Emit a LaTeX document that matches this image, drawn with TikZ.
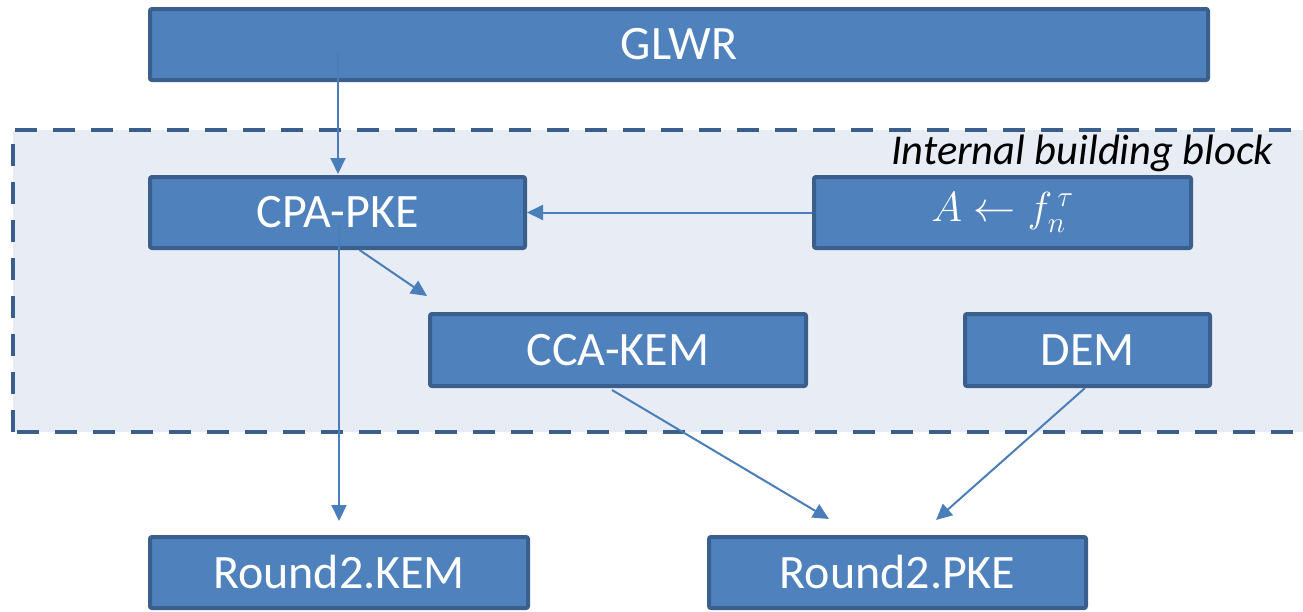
\RequirePackage{fix-cm}
\documentclass[tikz,border=0pt]{standalone}
\usepackage{fontspec}
\setmainfont{Carlito}
\usetikzlibrary{arrows.meta,calc}
\definecolor{boxfill}{HTML}{4F81BD}
\definecolor{boxline}{HTML}{3A5F8C}
\definecolor{regionfill}{HTML}{E8ECF4}
\definecolor{arrowcol}{HTML}{4A7EBB}
\tikzset{
  block/.style={draw=boxline, fill=boxfill, line width=4pt, rounded corners=2pt,
    text=white, font=\fontsize{48}{56}\selectfont, inner sep=0pt},
  conn/.style={draw=arrowcol, line width=2pt,
    -{Triangle[width=15pt,length=16pt]}},
  region/.style={draw=boxline, fill=regionfill, line width=4pt,
    dash pattern=on 22pt off 16pt},
}
\begin{document}
\begin{tikzpicture}[x=1pt,y=-1pt]
\useasboundingbox (0,0) rectangle (1303,611);
\clip (0,0) rectangle (1303,611);
% internal region
\path[region] (13,432) -- (13,130) -- (1320,130) -- (1320,432) -- cycle;
\node[anchor=base east, font=\fontsize{42.5}{50}\selectfont\itshape] (lbl) at (1277,164) {Internal building block};
% blocks
\node[block, minimum width=1058pt, minimum height=71pt] (glwr) at (679,44.5) {GLWR};
\node[block, minimum width=375pt, minimum height=71pt] (cpa) at (337.5,212.5) {CPA-PKE};
\node[block, minimum width=377pt, minimum height=71pt, font=\fontsize{42}{50}\selectfont] (af) at (1002.5,212.5) {$A \leftarrow f_{n}^{\,\tau}$};
\node[block, minimum width=376pt, minimum height=72pt] (cca) at (618,350) {CCA-KEM};
\node[block, minimum width=245pt, minimum height=72pt] (dem) at (1087.5,350) {DEM};
\node[block, minimum width=378pt, minimum height=71pt] (rkem) at (339,572.5) {Round2.KEM};
\node[block, minimum width=377pt, minimum height=71pt] (rpke) at (897.5,572.5) {Round2.PKE};
% connectors
\draw[conn] ($(glwr.center -| cpa.north)+(0.5,7.5)$) -- ($(cpa.north)+(0.5,-1)$);
\draw[conn] (af.west) -- (cpa.east);
\draw[conn] ($(cpa.south)+(22,0)$) -- ($(cca.north west)+(-1,-16)$);
\draw[conn] ($(cpa.center)+(1.5,9)$) -- ($(rkem.north)+(0,-14)$);
\draw[conn] ($(cca.south)+(-6,2)$) -- ($(rpke.north)+(-68.5,-16)$);
\draw[conn] ($(dem.south)+(-2.5,0)$) -- ($(rpke.north)+(38.5,-15)$);
\end{tikzpicture}
\end{document}
